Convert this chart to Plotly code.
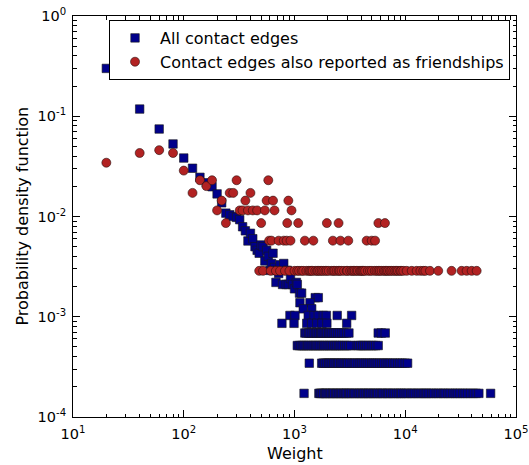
import plotly.graph_objects as go

# ---------------- data: "All contact edges" ----------------
# head of the distribution (weight, pdf)
all_w_head = [20, 40, 60, 80, 100, 120, 140, 160, 180, 200, 220, 240, 260, 280, 300,
              320, 340, 360, 380, 400, 420, 440, 460, 480, 500, 520, 540, 560, 580, 600,
              620, 640, 660, 680, 700, 720, 740, 780, 800, 840, 860, 880, 920, 960, 1000,
              1040, 1060]
all_p_head = [0.30, 0.118, 0.0746, 0.0529, 0.0383, 0.0303, 0.0246, 0.0217, 0.0198, 0.0168,
              0.0137, 0.0108, 0.0104, 0.0100, 0.0098, 0.0093, 0.0079, 0.0072, 0.0057, 0.0068,
              0.0060, 0.0050, 0.0046, 0.0043, 0.0052, 0.0050, 0.0036, 0.0046, 0.0040, 0.0029,
              0.0034, 0.0043, 0.0031, 0.0022, 0.0029, 0.0027, 0.0033, 0.0021, 0.0034, 0.0021,
              0.0029, 0.0021, 0.0024, 0.0021, 0.0019, 0.0022, 0.0021]

# tail rows: weights sharing the same pdf level
all_level_pdf = [1.72e-3, 1.55e-3, 1.38e-3, 1.20e-3, 1.03e-3, 8.6e-4, 6.88e-4, 5.16e-4, 3.44e-4, 1.72e-4]
all_w_10 = [1110, 1160]
all_w_9 = [1540, 1640]
all_w_8 = [1120, 1380]
all_w_7 = [1200, 1430]
all_w_6 = [910, 1010, 1330, 1500, 1640, 1820, 1940, 2430, 3280]
all_w_5 = [770, 990, 1290, 1430, 1590, 1770, 1960, 2960]
all_w_4 = [1240, 1280, 1340, 1380, 1440, 1500, 1560, 1600, 1660, 1720, 1760, 1820, 1900,
           1960, 2040, 2100, 2180, 2280, 2360, 2460, 2560, 2680, 2800, 2960, 3100,
           5700, 6080, 6600]
all_w_3 = [1060, 1100, 1140, 1180, 1220, 1280, 1320, 1360, 1420, 1480, 1540, 1580, 1640,
           1700, 1780, 1840, 1900, 1980, 2060, 2140, 2220, 2320, 2400, 2500, 2580, 2700,
           2840, 2960, 3080, 3220, 3680, 3800, 3960, 4140, 4320, 4500, 4700, 4960, 5160,
           5420, 5700]
all_w_2 = [1360, 1760, 1820, 1880, 1960, 2040, 2100, 2180, 2260, 2340, 2440, 2500, 2620,
           2700, 2820, 2940, 3020, 3160, 3320, 3460, 3560, 3740, 3900, 4040, 4200, 4380,
           4560, 4760, 4980, 5160, 5380, 5600, 5880, 6140, 6400, 6700, 7000, 7320, 7700,
           8100, 8560, 8940, 9400, 9980, 10500]
all_w_1 = [1220, 1660, 1700, 1740, 1800, 1880, 1920, 1980, 2060, 2120, 2200, 2260, 2360,
           2420, 2520, 2600, 2680, 2800, 2880, 2940, 3080, 3160, 3280, 3440, 3520, 3700,
           3820, 3960, 4120, 4240, 4420, 4600, 4700, 4900, 5120, 5280, 5500, 5640, 5920,
           6160, 6300, 6620, 6900, 7080, 7400, 7720, 8000, 8380, 8700, 9060, 9300, 9780,
           10200, 10640, 11200, 11600, 12100, 12800, 13300, 13900, 14600, 15200, 15700,
           16400, 17300, 18000, 19100, 19900, 21000, 22100, 22900, 24300, 25400, 26900,
           28300, 29600, 31200, 33100, 34700, 36600, 38900, 41200, 43600, 46200, 59000]
all_rows = [all_w_10, all_w_9, all_w_8, all_w_7, all_w_6, all_w_5, all_w_4, all_w_3, all_w_2, all_w_1]

# ---------------- data: "Contact edges also reported as friendships" ----------------
fr_w_head = [20, 40, 60, 80, 100, 120, 140, 160, 180, 200, 220, 240, 260, 280, 300, 320,
             340, 360, 380, 400, 420, 460, 500, 540, 560, 580, 640, 660, 860, 880, 940,
             1080, 1960, 2500, 5720, 6560]
fr_p_head = [0.0344, 0.0430, 0.0459, 0.0430, 0.0287, 0.0172, 0.0230, 0.0201, 0.0230, 0.0115,
             0.0144, 0.0086, 0.0172, 0.0172, 0.0230, 0.0115, 0.0115, 0.0144, 0.0115, 0.0172,
             0.0115, 0.0115, 0.0086, 0.0115, 0.0144, 0.0230, 0.0144, 0.0115, 0.0086, 0.0144,
             0.0115, 0.0086, 0.0086, 0.0086, 0.0086, 0.0086]
fr_level_pdf = [5.74e-3, 2.87e-3]
fr_w_2 = [590, 620, 720, 800, 850, 920, 1240, 1480, 2220, 2600, 3060, 4480, 4980, 5340]
fr_w_1 = [480, 520, 610, 680, 740, 820, 900, 1000, 1060, 1100, 1160, 1200, 1280, 1340,
          1380, 1420, 1460, 1540, 1600, 1640, 1700, 1760, 1820, 1900, 1960, 2040, 2160,
          2240, 2300, 2400, 2500, 2560, 2660, 2800, 2960, 3000, 3180, 3300, 3400, 3500,
          3640, 3740, 3900, 4000, 4100, 4200, 4340, 4600, 4800, 5000, 5300, 5500, 5720,
          5900, 6120, 6400, 6600, 6800, 7000, 7280, 7500, 7800, 8100, 8360, 8600, 8980,
          9200, 9600, 10300, 11440, 12680, 13700, 14560, 15200, 16720, 19860, 26200,
          32280, 35820, 39780, 44140]
fr_rows = [fr_w_2, fr_w_1]

# tick labels
x_tickvals = [10, 100, 1000, 10000, 100000]
x_ticktext = ["10<sup>1</sup>", "10<sup>2</sup>", "10<sup>3</sup>", "10<sup>4</sup>", "10<sup>5</sup>"]
y_tickvals = [1e-4, 1e-3, 1e-2, 1e-1, 1]
y_ticktext = ["10<sup>-4</sup>", "10<sup>-3</sup>", "10<sup>-2</sup>", "10<sup>-1</sup>", "10<sup>0</sup>"]

# ---------------- assemble ----------------
all_x = list(all_w_head)
all_y = list(all_p_head)
for lvl, row in zip(all_level_pdf, all_rows):
    all_x += row
    all_y += [lvl] * len(row)

fr_x = list(fr_w_head)
fr_y = list(fr_p_head)
for lvl, row in zip(fr_level_pdf, fr_rows):
    fr_x += row
    fr_y += [lvl] * len(row)

minor_x = [m * 10 ** k for k in range(1, 5) for m in range(2, 10)]
minor_y = [m * 10.0 ** k for k in range(-4, 0) for m in range(2, 10)]

fig = go.Figure()
fig.add_trace(go.Scatter(
    x=all_x, y=all_y, mode="markers", name="All contact edges",
    marker=dict(symbol="square", size=8.5, color="#00008B",
                line=dict(color="#1a1a1a", width=0.6)),
))
fig.add_trace(go.Scatter(
    x=fr_x, y=fr_y, mode="markers", name="Contact edges also reported as friendships",
    marker=dict(symbol="circle", size=9, color="#B22222",
                line=dict(color="#2a1010", width=0.6)),
))

axis_common = dict(
    type="log", showgrid=False, zeroline=False, showline=True, linecolor="black",
    linewidth=1, mirror="allticks", ticks="inside", ticklen=7, tickwidth=1,
    tickcolor="black", tickfont=dict(family="DejaVu Sans", size=14.5, color="black"),
)
fig.update_xaxes(**axis_common, range=[1, 5], tickmode="array", tickvals=x_tickvals,
                 ticktext=x_ticktext, ticklabelstandoff=4,
                 minor=dict(ticks="inside", ticklen=3.5, tickcolor="black", tickvals=minor_x))
fig.update_yaxes(**axis_common, range=[-4, 0], tickmode="array", tickvals=y_tickvals,
                 ticktext=y_ticktext, ticklabelstandoff=3,
                 minor=dict(ticks="inside", ticklen=3.5, tickcolor="black", tickvals=minor_y))

fig.update_layout(
    width=529, height=465,
    margin=dict(l=73, r=13, t=16, b=48, autoexpand=False),
    paper_bgcolor="white", plot_bgcolor="white",
    font=dict(family="DejaVu Sans", color="black"),
    showlegend=True,
    legend=dict(
        x=0.0813, y=0.990, xanchor="left", yanchor="top",
        bordercolor="black", borderwidth=1, bgcolor="white",
        font=dict(family="DejaVu Sans", size=16, color="black"),
        itemwidth=40, tracegroupgap=0,
    ),
    annotations=[
        dict(text="Weight", x=0.5, y=-0.09, xref="paper", yref="paper",
             xanchor="center", yanchor="middle", showarrow=False,
             font=dict(family="DejaVu Sans", size=16, color="black")),
        dict(text="Probability density function", x=-0.115, y=0.5, xref="paper", yref="paper",
             xanchor="center", yanchor="middle", showarrow=False, textangle=-90,
             font=dict(family="DejaVu Sans", size=16, color="black")),
    ],
)

fig.write_html("out.html")
